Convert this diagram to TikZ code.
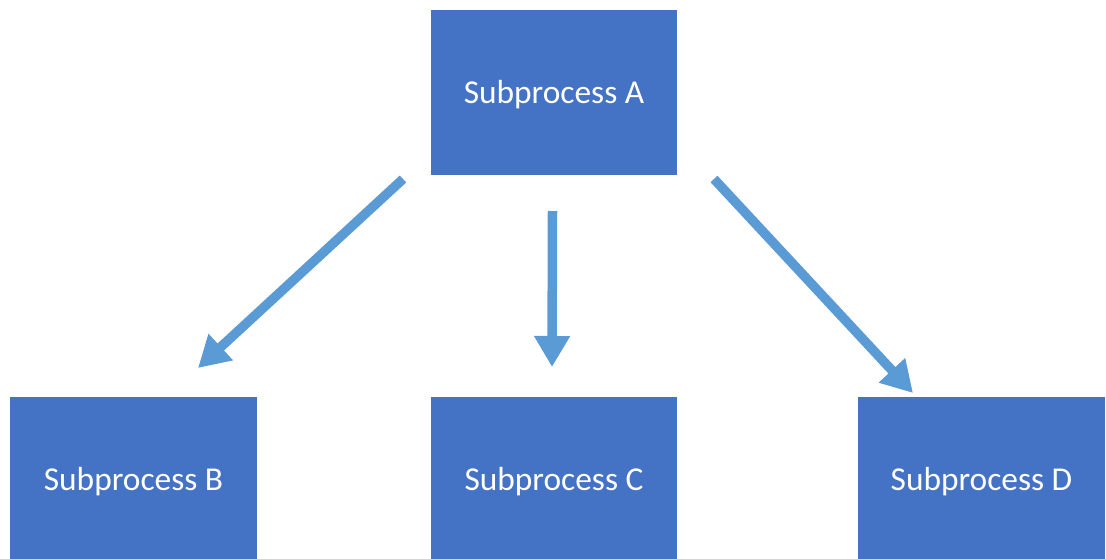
\documentclass[tikz,border=0pt]{standalone}
\usepackage{fontspec}
\setmainfont{Carlito}
\usetikzlibrary{arrows.meta}
\definecolor{boxblue}{HTML}{4472C4}
\definecolor{arrowblue}{HTML}{5B9BD5}
\tikzset{
  procbox/.style={fill=boxblue, draw=none, anchor=north west, inner sep=0pt},
  proclabel/.style={text=white, inner sep=0pt, font=\fontsize{33.4}{40}\selectfont},
  flowarrow/.style={draw=arrowblue, line width=9.5pt,
    -{Triangle[width=34pt,length=31pt]}}
}
\begin{document}
\begin{tikzpicture}[x=1pt,y=-1pt]
  \useasboundingbox (0,0) rectangle (1106,558);
  \clip (0,0) rectangle (1106,558);
  % process boxes
  \node[procbox, minimum width=246pt, minimum height=165pt] (A) at (431,10) {};
  \node[procbox, minimum width=247pt, minimum height=175pt] (B) at (10,397) {};
  \node[procbox, minimum width=246pt, minimum height=175pt] (C) at (431,397) {};
  \node[procbox, minimum width=247pt, minimum height=175pt] (D) at (858,397) {};
  % labels (the lower boxes run past the bottom edge)
  \node[proclabel] (Al) at (554,95) {Subprocess A};
  \node[proclabel] (Bl) at (133.5,482) {Subprocess B};
  \node[proclabel] (Cl) at (554,482) {Subprocess C};
  \node[proclabel] (Dl) at (981.5,482) {Subprocess D};
  % arrow end points
  \coordinate (ab1) at (403,179);
  \coordinate (ab2) at (198,368);
  \coordinate (ac1) at (552.5,211);
  \coordinate (ac2) at (552,367);
  \coordinate (ad1) at (714,179);
  \coordinate (ad2) at (913,393);
  \draw[flowarrow] (ab1) -- (ab2);
  \draw[flowarrow] (ac1) -- (ac2);
  \draw[flowarrow] (ad1) -- (ad2);
\end{tikzpicture}
\end{document}
